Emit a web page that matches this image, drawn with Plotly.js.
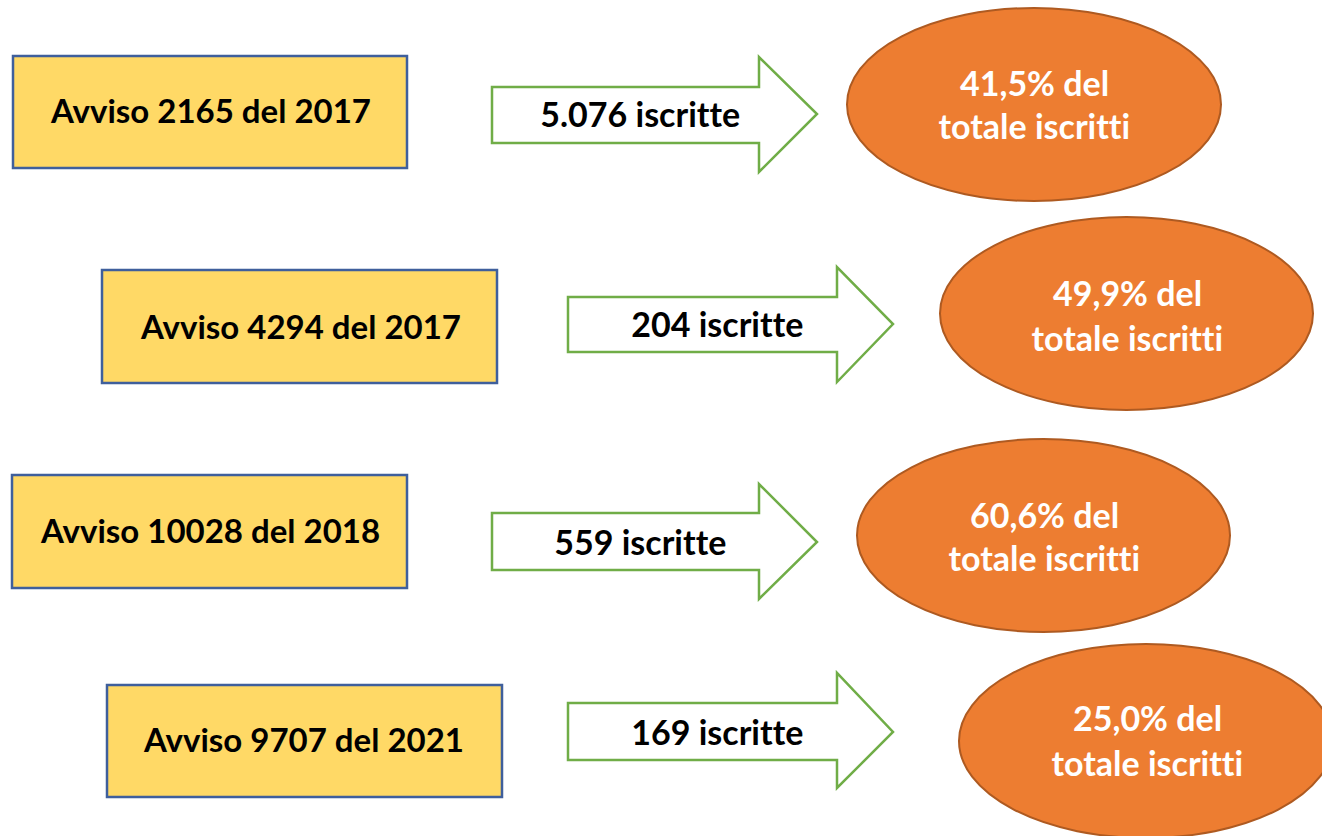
<!DOCTYPE html>
<html>
<head>
<meta charset="utf-8">
<script src="https://cdn.plot.ly/plotly-3.0.1.min.js"></script>
<style>
  html, body { margin: 0; padding: 0; background: #ffffff; }
  #chart { width: 1322px; height: 836px; }
  #chart text { font-variant-ligatures: none; font-feature-settings: "liga" 0, "clig" 0; }
</style>
</head>
<body>
<div id="chart"></div>
<script>
// ---- Data ----
const avvisi = ["Avviso 2165 del 2017", "Avviso 4294 del 2017", "Avviso 10028 del 2018", "Avviso 9707 del 2021"];
const iscritte = ["5.076", "204", "559", "169"];
const percentuali = ["41,5%", "49,9%", "60,6%", "25,0%"];

// ---- Geometry (pixel positions in layout space) ----
// box: [x0, y0, x1, y1]; arrow: [x0, bodyTop, bodyBottom, headBase, headTop, headBottom, tipX, tipY]
const boxes = [[13, 56, 407, 168], [102, 270, 497, 383], [12, 475, 407, 588], [107, 685, 502, 797]];
const boxText = [[210, 110], [300, 326], [210, 530], [303, 739]];
const arrows = [
  [492, 87, 143, 759, 57, 172, 817, 114],
  [568, 297, 352, 837, 267, 382, 893, 324],
  [492, 513, 570, 759, 484, 599, 817, 542],
  [568, 703, 760, 837, 673, 788, 893, 732]
];
const arrowText = [[640, 113], [717, 323], [640, 541], [717, 731]];
const ellipses = [[847, 8, 1221, 201], [940, 217, 1313, 410], [857, 439, 1230, 632], [959, 644, 1333, 838]];
const ellText = [[1034, 82, 125], [1127, 292, 337], [1044, 514, 557], [1147, 717, 762]];

const FONT = "Lato, 'Open Sans', sans-serif";
const shapes = [];
const annotations = [];

for (let i = 0; i < avvisi.length; i++) {
  const b = boxes[i];
  shapes.push({type: 'rect', xref: 'x', yref: 'y', x0: b[0], y0: b[1], x1: b[2], y1: b[3],
    fillcolor: '#FFD966', line: {color: '#3F5F9C', width: 2.5}, layer: 'above'});
  const a = arrows[i];
  const p = `M ${a[0]},${a[1]} L ${a[3]},${a[1]} L ${a[3]},${a[4]} L ${a[6]},${a[7]} L ${a[3]},${a[5]} L ${a[3]},${a[2]} L ${a[0]},${a[2]} Z`;
  shapes.push({type: 'path', xref: 'x', yref: 'y', path: p, fillcolor: '#FFFFFF',
    line: {color: '#70AD47', width: 2.5}, layer: 'above'});
  const e = ellipses[i];
  shapes.push({type: 'circle', xref: 'x', yref: 'y', x0: e[0], y0: e[1], x1: e[2], y1: e[3],
    fillcolor: '#ED7D31', line: {color: '#AE5A21', width: 2}, layer: 'above'});

  annotations.push({x: boxText[i][0], y: boxText[i][1], xref: 'x', yref: 'y', text: '<b>' + avvisi[i] + '</b>',
    showarrow: false, xanchor: 'center', yanchor: 'middle', font: {family: FONT, size: 33, color: '#000000'}});
  annotations.push({x: arrowText[i][0], y: arrowText[i][1], xref: 'x', yref: 'y', text: '<b>' + iscritte[i] + ' iscritte</b>',
    showarrow: false, xanchor: 'center', yanchor: 'middle', font: {family: FONT, size: 34, color: '#000000'}});
  annotations.push({x: ellText[i][0], y: ellText[i][1], xref: 'x', yref: 'y', text: '<b>' + percentuali[i] + ' del</b>',
    showarrow: false, xanchor: 'center', yanchor: 'middle', font: {family: FONT, size: 34, color: '#FFFFFF'}});
  annotations.push({x: ellText[i][0], y: ellText[i][2], xref: 'x', yref: 'y', text: '<b>totale iscritti</b>',
    showarrow: false, xanchor: 'center', yanchor: 'middle', font: {family: FONT, size: 34, color: '#FFFFFF'}});
}

const layout = {
  width: 1322, height: 836,
  margin: {l: 0, r: 0, t: 0, b: 0},
  paper_bgcolor: '#FFFFFF', plot_bgcolor: '#FFFFFF',
  xaxis: {range: [0, 1322], visible: false, fixedrange: true},
  yaxis: {range: [836, 0], visible: false, fixedrange: true},
  showlegend: false,
  shapes: shapes,
  annotations: annotations
};

Plotly.newPlot('chart', [{x: [], y: [], type: 'scatter', hoverinfo: 'skip'}], layout, {staticPlot: true});
</script>
</body>
</html>
